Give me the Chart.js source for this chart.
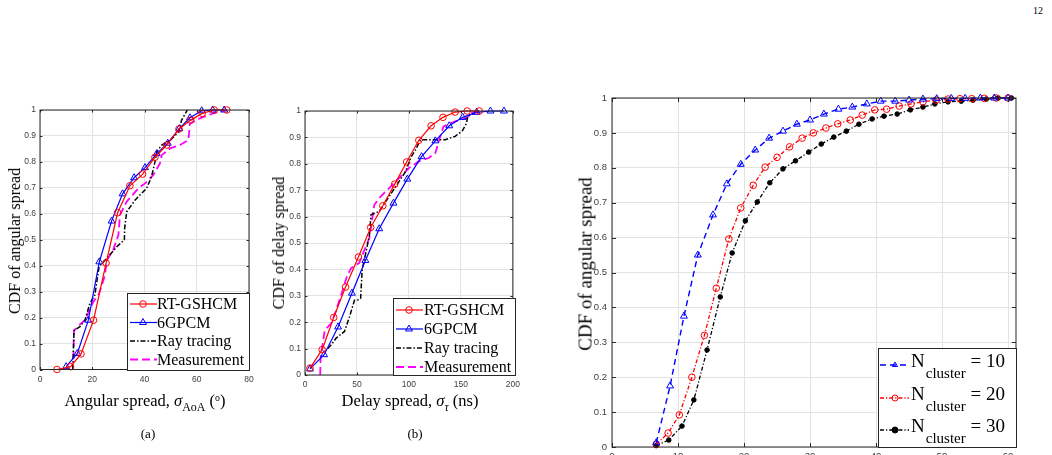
<!DOCTYPE html>
<html>
<head>
<meta charset="utf-8">
<script src="https://cdn.jsdelivr.net/npm/chart.js@4.4.1/dist/chart.umd.min.js"></script>
<style>
  html, body { margin: 0; padding: 0; background: #fff; width: 1052px; height: 455px; overflow: hidden; }
  body { position: relative; font-family: "Liberation Serif", "Times New Roman", serif; color: #000; }
  canvas { position: absolute; }
  .lbl { position: absolute; white-space: nowrap; line-height: 1; }
  .ytitle { transform: translate(-50%, -50%) rotate(-90deg); }
  .xtitle { transform: translateX(-50%); }
  .sub { font-size: 0.72em; position: relative; top: 0.42em; }
  .sup { font-size: 0.6em; position: relative; top: -0.55em; }
</style>
</head>
<body>
<canvas id="chartA"></canvas>
<canvas id="chartB"></canvas>
<canvas id="chartC"></canvas>

<div class="lbl" style="left:1033px; top:6px; font-size:10px;">12</div>

<div class="lbl ytitle" style="left:15px; top:241px; font-size:16px;">CDF of angular spread</div>
<div class="lbl xtitle" style="left:145px; top:393px; font-size:16.5px;">Angular spread, <i>σ</i><span class="sub">AoA</span> (<span class="sup">o</span>)</div>
<div class="lbl xtitle" style="left:148px; top:427px; font-size:13px;">(a)</div>

<div class="lbl ytitle" style="left:279px; top:243px; font-size:16px;">CDF of delay spread</div>
<div class="lbl xtitle" style="left:410px; top:393px; font-size:16.5px;">Delay spread, <i>σ</i><span class="sub"><i>τ</i></span> (ns)</div>
<div class="lbl xtitle" style="left:415px; top:427px; font-size:13px;">(b)</div>

<div class="lbl ytitle" style="left:585px; top:264px; font-size:19px;">CDF of angular spread</div>

<script>
// tick values
const cdfTicks = [0, 0.1, 0.2, 0.3, 0.4, 0.5, 0.6, 0.7, 0.8, 0.9, 1];
const angTicks = [0, 20, 40, 60, 80];
const delayTicks = [0, 50, 100, 150, 200];
const clusterTicks = [0, 10, 20, 30, 40, 50, 60];

const seriesNames = ['RT-GSHCM', '6GPCM', 'Ray tracing', 'Measurement'];
const clusterSizes = ['10', '20', '30'];

// (a) angular spread CDF
const rtAngX = [6.5, 11.7, 15.7, 20.5, 25.3, 29.7, 34.4, 39.3, 44.0, 48.5, 53.2, 57.7, 62.1, 66.7, 71.5];
const rtAngY = [0, 0.011, 0.06, 0.19, 0.41, 0.604, 0.708, 0.753, 0.818, 0.865, 0.927, 0.961, 0.987, 1, 1];
const gpAngX = [10.0, 14.3, 18.5, 22.7, 27.4, 31.6, 36.0, 40.2, 44.7, 48.9, 53.3, 57.4, 61.9, 66.1, 70.5];
const gpAngY = [0.011, 0.062, 0.19, 0.415, 0.572, 0.677, 0.739, 0.778, 0.832, 0.872, 0.928, 0.97, 0.997, 1, 1];
const rayAngX = [12.5, 12.7, 13.0, 15.3, 17.2, 19.1, 21.0, 22.6, 25.5, 29.4, 32.3, 32.4, 33.2, 36.4, 40.8, 42.7, 44.0, 44.7, 46.6, 49.9, 53.1, 54.2, 56.4];
const rayAngY = [0, 0.05, 0.15, 0.165, 0.19, 0.255, 0.287, 0.396, 0.428, 0.473, 0.5, 0.544, 0.608, 0.653, 0.698, 0.743, 0.8, 0.839, 0.865, 0.884, 0.916, 0.961, 1];
const meaAngX = [12.8, 13.0, 15.0, 17.2, 20.4, 22.5, 23.8, 24.9, 25.5, 28.0, 30.0, 30.6, 33.2, 37.6, 40.2, 43.4, 45.9, 46.6, 49.8, 53.6, 56.8, 57.4, 61.2, 66.3, 71.5];
const meaAngY = [0.04, 0.15, 0.171, 0.19, 0.261, 0.29, 0.33, 0.364, 0.42, 0.46, 0.518, 0.595, 0.647, 0.698, 0.717, 0.75, 0.794, 0.826, 0.852, 0.865, 0.884, 0.948, 0.968, 0.987, 1];

// (b) delay spread CDF
const rtDelX = [4.8, 16.5, 27.6, 39.0, 51.4, 63.2, 74.9, 86.3, 97.8, 109.5, 121.3, 132.7, 144.4, 156.0, 167.6];
const rtDelY = [0.026, 0.096, 0.218, 0.333, 0.447, 0.559, 0.641, 0.723, 0.807, 0.889, 0.944, 0.976, 0.996, 1, 1];
const gpDelX = [4.8, 18.4, 31.8, 45.1, 58.1, 71.4, 85.1, 98.4, 112.1, 125.4, 138.8, 151.7, 165.0, 178.4, 191.4];
const gpDelY = [0.023, 0.077, 0.182, 0.31, 0.434, 0.554, 0.651, 0.742, 0.827, 0.887, 0.944, 0.976, 0.995, 1, 1];
const rayDelX = [22, 25.4, 30, 38.0, 42.9, 47.6, 51.8, 53.5, 55.0, 58.8, 62.0, 63.5, 71.4, 77.8, 87.3, 96.8, 101.6, 106.3, 111.1, 122.2, 134.9, 144.4, 151.4, 155.5, 156.4, 163.4];
const rayDelY = [0.1, 0.115, 0.14, 0.165, 0.222, 0.283, 0.285, 0.29, 0.4, 0.468, 0.53, 0.607, 0.62, 0.658, 0.714, 0.771, 0.822, 0.853, 0.891, 0.891, 0.891, 0.904, 0.925, 0.954, 0.98, 0.992];
const meaDelX = [14.6, 15.0, 19.0, 25.4, 30.1, 34.3, 40.3, 44.4, 52.1, 61.9, 66.7, 73.0, 81.0, 90.5, 100.0, 109.5, 119.0, 125.4, 128.6, 133.3, 144.4, 155.5, 160.3, 168.3];
const meaDelY = [0, 0.065, 0.17, 0.197, 0.247, 0.298, 0.373, 0.405, 0.424, 0.519, 0.645, 0.677, 0.708, 0.746, 0.784, 0.809, 0.822, 0.841, 0.885, 0.942, 0.961, 0.973, 0.992, 1];

// (c) angular spread for different cluster numbers
const n10X = [6.7, 8.8, 10.9, 13.0, 15.3, 17.4, 19.5, 21.7, 23.8, 25.9, 28.0, 30.0, 32.1, 34.3, 36.4, 38.6, 40.7, 42.9, 45.0, 47.1, 49.2, 51.4, 53.5, 55.8, 57.9, 60.0];
const n10Y = [0.012, 0.175, 0.375, 0.55, 0.665, 0.754, 0.81, 0.851, 0.885, 0.905, 0.925, 0.937, 0.954, 0.968, 0.974, 0.983, 0.991, 0.991, 0.994, 0.997, 0.998, 0.999, 0.999, 1, 1, 1];
const n20X = [6.7, 8.5, 10.2, 12.1, 14.0, 15.8, 17.7, 19.5, 21.4, 23.2, 25.0, 26.9, 28.8, 30.5, 32.4, 34.2, 36.1, 37.9, 39.8, 41.6, 43.5, 45.3, 47.1, 49.1, 50.9, 52.7, 54.5, 56.4, 58.2, 60.0];
const n20Y = [0.008, 0.04, 0.092, 0.2, 0.32, 0.455, 0.596, 0.685, 0.75, 0.802, 0.83, 0.86, 0.885, 0.9, 0.914, 0.926, 0.937, 0.951, 0.966, 0.968, 0.977, 0.983, 0.989, 0.994, 0.997, 0.998, 0.998, 0.999, 1, 1];
const n30X = [6.7, 8.6, 10.6, 12.4, 14.4, 16.4, 18.2, 20.2, 22.0, 23.9, 25.9, 27.8, 29.8, 31.7, 33.6, 35.5, 37.4, 39.4, 41.2, 43.2, 45.2, 47.1, 48.9, 50.9, 52.9, 54.7, 56.7, 58.5, 60.5];
const n30Y = [0.004, 0.02, 0.06, 0.135, 0.278, 0.43, 0.556, 0.648, 0.702, 0.757, 0.797, 0.82, 0.845, 0.868, 0.888, 0.905, 0.925, 0.94, 0.948, 0.954, 0.966, 0.974, 0.983, 0.989, 0.991, 0.994, 0.997, 1, 1];

const pairs = (xs, ys) => xs.map((x, i) => ({ x: x, y: ys[i] }));

const GRID = '#e2e2e2';
const AXIS = '#262626';
const TICK_TXT = '#404040';

function drawMarker(ctx, style, x, y, r, color, filled) {
  ctx.beginPath();
  if (style === 'triangle') {
    let rad = 0;
    ctx.moveTo(x + Math.sin(rad) * r, y - Math.cos(rad) * r);
    rad += Math.PI * 2 / 3;
    ctx.lineTo(x + Math.sin(rad) * r, y - Math.cos(rad) * r);
    rad += Math.PI * 2 / 3;
    ctx.lineTo(x + Math.sin(rad) * r, y - Math.cos(rad) * r);
    ctx.closePath();
  } else {
    ctx.arc(x, y, r, 0, Math.PI * 2);
  }
  if (filled) { ctx.fillStyle = color; ctx.fill(); }
  ctx.strokeStyle = color;
  ctx.lineWidth = 1;
  ctx.stroke();
}

// axes box with inward ticks, like MATLAB "box on"
const framePlugin = {
  id: 'frame',
  afterDatasetsDraw(chart, args, o) {
    const { ctx, chartArea: a, scales } = chart;
    ctx.save();
    ctx.strokeStyle = AXIS;
    ctx.lineWidth = 1;
    ctx.setLineDash([]);
    ctx.strokeRect(a.left, a.top, a.right - a.left, a.bottom - a.top);
    ctx.beginPath();
    scales.x.ticks.forEach(t => {
      const px = Math.round(scales.x.getPixelForValue(t.value)) + 0.5;
      ctx.moveTo(px, a.bottom); ctx.lineTo(px, a.bottom - o.len);
      ctx.moveTo(px, a.top); ctx.lineTo(px, a.top + o.len);
    });
    scales.y.ticks.forEach(t => {
      const py = Math.round(scales.y.getPixelForValue(t.value)) + 0.5;
      ctx.moveTo(a.left, py); ctx.lineTo(a.left + o.len, py);
      ctx.moveTo(a.right, py); ctx.lineTo(a.right - o.len, py);
    });
    ctx.stroke();
    ctx.restore();
  }
};

// legend box drawn inside the axes
const legendPlugin = {
  id: 'boxLegend',
  afterDraw(chart, args, o) {
    const ctx = chart.ctx;
    ctx.save();
    ctx.fillStyle = '#fff';
    ctx.fillRect(o.x, o.y, o.w, o.h);
    ctx.strokeStyle = AXIS;
    ctx.lineWidth = 1;
    ctx.strokeRect(o.x + 0.5, o.y + 0.5, o.w, o.h);
    chart.data.datasets.forEach((ds, i) => {
      const cy = o.rowY[i];
      ctx.strokeStyle = ds.borderColor;
      ctx.lineWidth = ds.borderWidth;
      ctx.setLineDash(ds.borderDash || []);
      ctx.beginPath();
      ctx.moveTo(o.x + o.line0, cy);
      ctx.lineTo(o.x + o.line1, cy);
      ctx.stroke();
      ctx.setLineDash([]);
      if (ds.pointRadius > 0) {
        drawMarker(ctx, ds.pointStyle, o.x + o.mark, cy, o.markR || ds.pointRadius, ds.pointBorderColor, ds.pointBackgroundColor !== 'transparent');
      }
      ctx.fillStyle = '#000';
      ctx.textBaseline = 'alphabetic';
      let tx = o.x + o.text;
      if (o.subscript) {
        ctx.font = o.font;
        ctx.fillText('N', tx, cy + 2);
        tx += ctx.measureText('N').width;
        ctx.font = o.subFont;
        ctx.fillText('cluster', tx + 1, cy + 13);
        tx += ctx.measureText('cluster').width + 1;
        ctx.font = o.font;
        ctx.fillText(' = ' + clusterSizes[i], tx, cy + 2);
      } else {
        ctx.font = o.font;
        ctx.fillText(ds.label, tx, cy + 5);
      }
    });
    ctx.restore();
  }
};

function makePanel(id, pos, area, cfg) {
  const canvas = document.getElementById(id);
  canvas.width = pos.width;
  canvas.height = pos.height;
  canvas.style.left = pos.left + 'px';
  canvas.style.top = pos.top + 'px';
  const yW = area.l - pos.left;
  const xH = pos.top + pos.height - area.b;
  const tickFont = { family: '"Liberation Sans", Arial, sans-serif', size: cfg.tickSize };
  const lg = cfg.legend;
  lg.x -= pos.left; lg.y -= pos.top;
  lg.rowY = lg.rowY.map(v => v - pos.top);
  return new Chart(canvas, {
    type: 'line',
    data: { datasets: cfg.datasets },
    options: {
      responsive: false,
      animation: false,
      devicePixelRatio: 1,
      layout: { padding: { left: 0, top: area.t - pos.top, right: pos.left + pos.width - area.r, bottom: 0 } },
      scales: {
        x: {
          type: 'linear', min: cfg.xMin, max: cfg.xMax,
          afterFit: s => { s.height = xH; },
          afterBuildTicks: s => { s.ticks = cfg.xTicks.map(v => ({ value: v })); },
          grid: { color: GRID, drawTicks: false },
          border: { display: false },
          ticks: { padding: cfg.xPad, font: tickFont, color: TICK_TXT, maxRotation: 0, autoSkip: false, callback: v => String(v) }
        },
        y: {
          type: 'linear', min: 0, max: 1,
          afterFit: s => { s.width = yW; },
          afterBuildTicks: s => { s.ticks = cdfTicks.map(v => ({ value: v })); },
          grid: { color: GRID, drawTicks: false },
          border: { display: false },
          ticks: { padding: cfg.yPad, font: tickFont, color: TICK_TXT, autoSkip: false, callback: v => String(v) }
        }
      },
      plugins: {
        legend: { display: false },
        tooltip: { enabled: false },
        frame: { len: cfg.tickLen },
        boxLegend: lg
      }
    },
    plugins: [framePlugin, legendPlugin]
  });
}

function lineSet(label, xs, ys, color, width, dash, style, radius, filled) {
  return {
    label: label,
    data: pairs(xs, ys),
    borderColor: color,
    borderWidth: width,
    borderDash: dash,
    tension: 0,
    fill: false,
    clip: false,
    pointStyle: style || 'circle',
    pointRadius: radius || 0,
    pointBorderColor: color,
    pointBorderWidth: 1,
    pointBackgroundColor: filled ? color : 'transparent'
  };
}

const legendFont = '16px "Liberation Serif", "Times New Roman", serif';

makePanel('chartA', { left: 0, top: 95, width: 262, height: 300 }, { l: 40, t: 110, r: 249, b: 369.5 }, {
  xMin: 0, xMax: 80, xTicks: angTicks, tickSize: 8.5, xPad: 5, yPad: 4, tickLen: 2.5,
  datasets: [
    lineSet(seriesNames[0], rtAngX, rtAngY, '#ff0000', 1.2, [], 'circle', 3.3),
    lineSet(seriesNames[1], gpAngX, gpAngY, '#0000ff', 1.2, [], 'triangle', 4),
    lineSet(seriesNames[2], rayAngX, rayAngY, '#000000', 1.5, [5, 2, 1.5, 2]),
    lineSet(seriesNames[3], meaAngX, meaAngY, '#ff00ff', 1.8, [8, 4])
  ],
  legend: { x: 127, y: 293, w: 122, h: 77, rowY: [304, 322.5, 341, 359.5], line0: 3, line1: 30, mark: 16, text: 30, font: legendFont }
});

makePanel('chartB', { left: 265, top: 95, width: 260, height: 300 }, { l: 305, t: 111, r: 515, b: 375 }, {
  xMin: 0, xMax: 200, xTicks: delayTicks, tickSize: 8.5, xPad: 5, yPad: 4, tickLen: 2.5,
  datasets: [
    lineSet(seriesNames[0], rtDelX, rtDelY, '#ff0000', 1.2, [], 'circle', 3.3),
    lineSet(seriesNames[1], gpDelX, gpDelY, '#0000ff', 1.2, [], 'triangle', 4),
    lineSet(seriesNames[2], rayDelX, rayDelY, '#000000', 1.5, [5, 2, 1.5, 2]),
    lineSet(seriesNames[3], meaDelX, meaDelY, '#ff00ff', 1.8, [8, 4])
  ],
  legend: { x: 393, y: 298, w: 122, h: 77, rowY: [310, 329, 348, 367], line0: 3, line1: 30, mark: 16, text: 31, font: legendFont }
});

makePanel('chartC', { left: 560, top: 80, width: 480, height: 400 }, { l: 612, t: 98, r: 1016, b: 447 }, {
  xMin: 0, xMax: 61.2, xTicks: clusterTicks, tickSize: 9.5, xPad: 4, yPad: 5, tickLen: 4,
  datasets: [
    lineSet('N10', n10X, n10Y, '#0000ff', 1.4, [6, 4], 'triangle', 4),
    lineSet('N20', n20X, n20Y, '#ff0000', 1.3, [4, 2, 1.2, 2], 'circle', 3.3),
    lineSet('N30', n30X, n30Y, '#000000', 1.3, [4, 2, 1.2, 2], 'circle', 2.3, true)
  ],
  legend: { x: 878, y: 348, w: 138, h: 99, rowY: [365, 398, 430], line0: 2, line1: 31, mark: 17, text: 33, markR: 3,
            subscript: true, font: '19px "Liberation Serif", "Times New Roman", serif', subFont: '15px "Liberation Serif", "Times New Roman", serif' }
});
</script>
</body>
</html>
